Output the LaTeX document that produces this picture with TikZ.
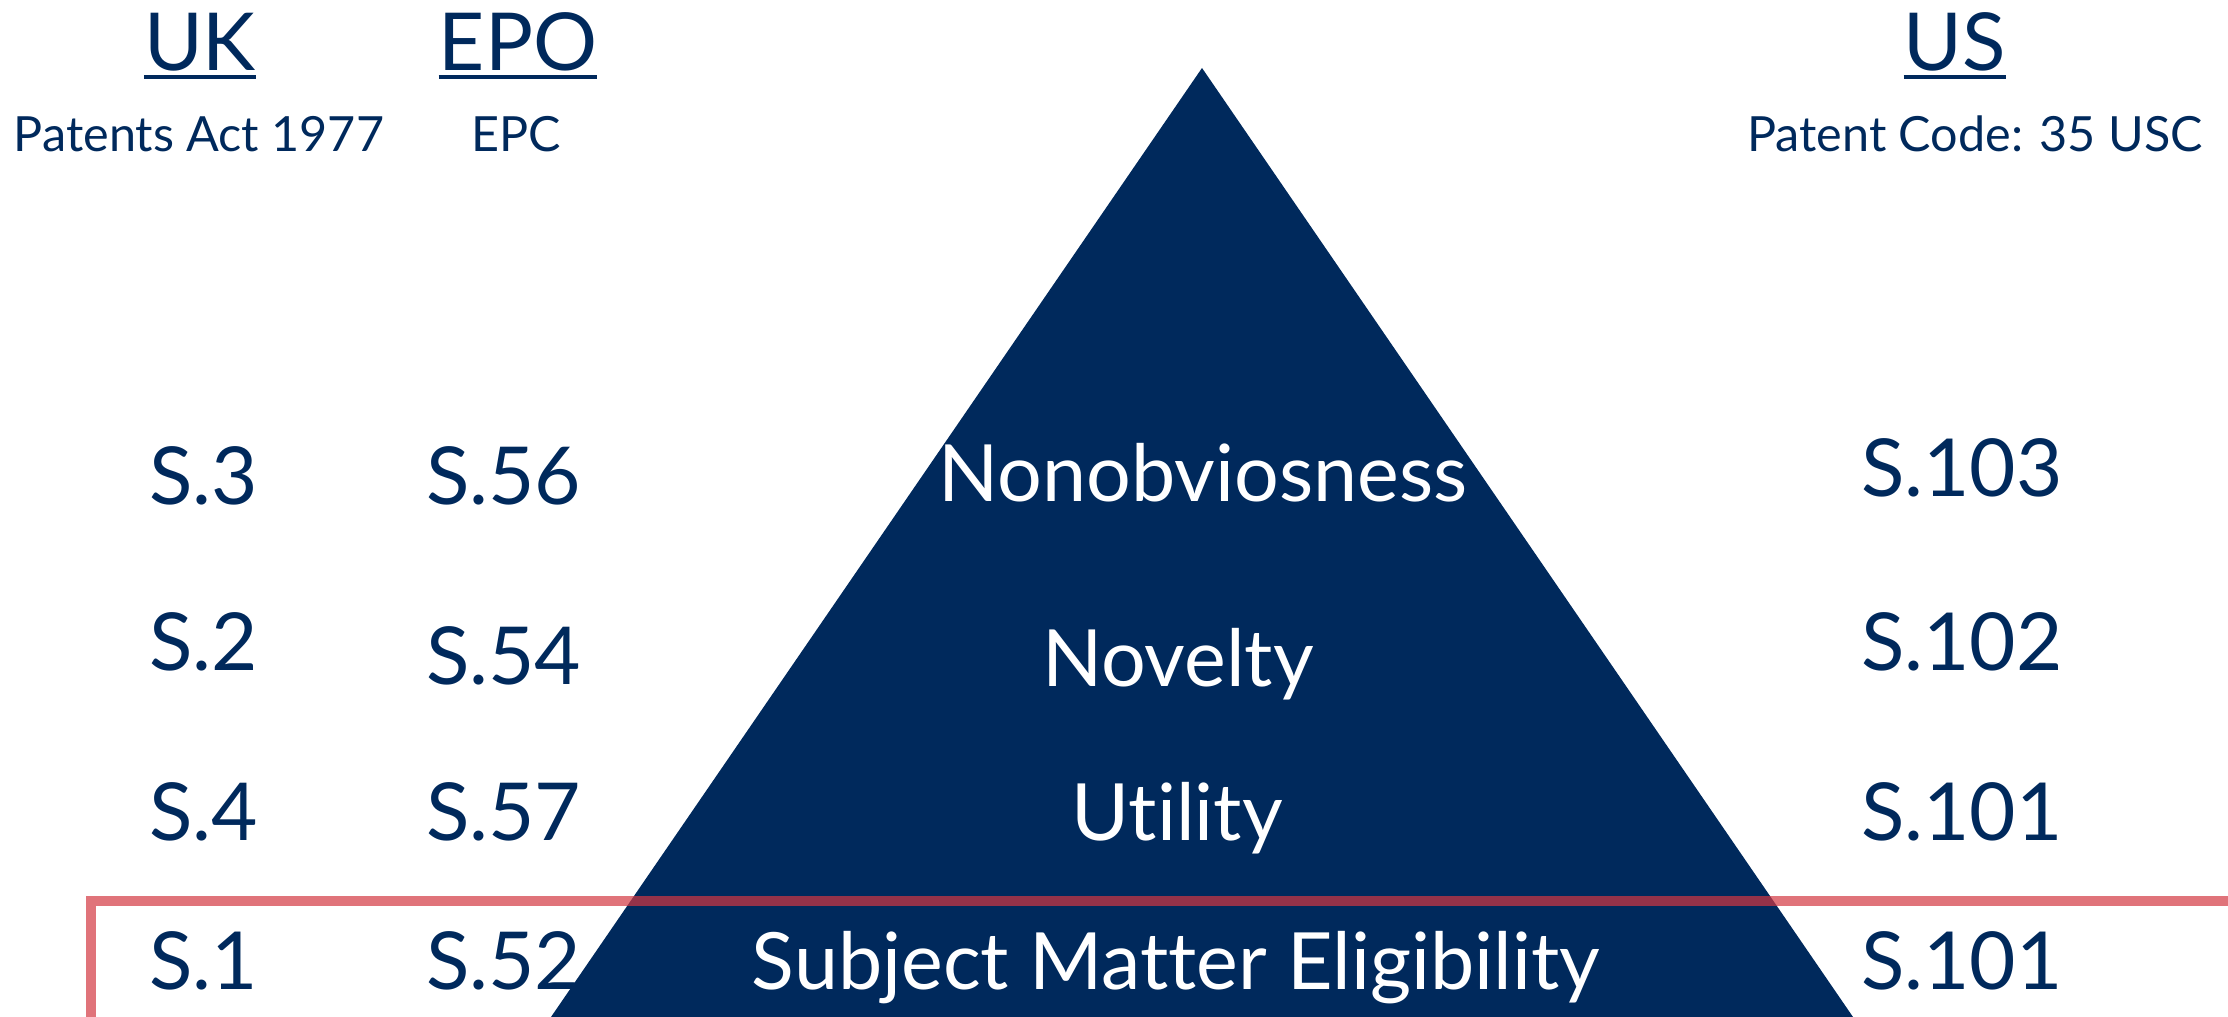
\documentclass[tikz,border=0pt]{standalone}
\usepackage{fontspec}
\setmainfont{Lato}[Ligatures=NoCommon]
\definecolor{navy}{RGB}{0,41,92}
\definecolor{hlred}{RGB}{211,55,65}
\begin{document}
\begin{tikzpicture}[x=1pt,y=1pt,
  head/.style={font=\fontsize{80}{96}\selectfont, text=navy, inner sep=0pt, anchor=base},
  sub/.style={font=\fontsize{48.5}{58}\selectfont, text=navy, inner sep=0pt, anchor=base},
  lab/.style={font=\fontsize{80}{96}\selectfont, text=navy, inner sep=0pt, anchor=base west},
  tri/.style={font=\fontsize{79}{95}\selectfont, text=white, inner sep=0pt, anchor=base},
  uline/.style={draw=navy, line width=4pt}]
\useasboundingbox (0,0) rectangle (2228,1017);
% triangle
\coordinate (apex) at (1202,949);
\coordinate (bl) at (551,0);
\coordinate (br) at (1853,0);
\fill[navy] (apex) -- (bl) -- (br) -- cycle;
% headings
\node[head] (uk) at (200,946) {UK};
\node[head] (epo) at (518,946) {EPO};
\node[head] (us) at (1955,946) {US};
\draw[uline] ([yshift=-6]uk.base west) -- ([yshift=-6]uk.base east);
\draw[uline] ([yshift=-6]epo.base west) -- ([yshift=-6]epo.base east);
\draw[uline] ([yshift=-6]us.base west) -- ([yshift=-6]us.base east);
\node[sub] (ukact) at (199,865) {Patents Act 1977};
\node[sub] (epc) at (516,865) {EPC};
\node[sub] (usc) at (1975,865) {Patent Code: 35 USC};
% row 1
\node[lab] (s3) at (149,512) {S.3};
\node[lab] (s56) at (426,512) {S.56};
\node[tri] (nonob) at (1203,515) {Nonobviosness};
\node[lab] (s103) at (1861,520) {S.103};
% row 2
\node[lab] (s2) at (149,346) {S.2};
\node[lab] (s54) at (426,332) {S.54};
\node[tri] (novel) at (1178,330) {Novelty};
\node[lab] (s102) at (1861,346) {S.102};
% row 3
\node[lab] (s4) at (149,176) {S.4};
\node[lab] (s57) at (426,176) {S.57};
\node[tri] (util) at (1177,176) {Utility};
\node[lab] (s101a) at (1861,176) {S.101};
% row 4
\node[lab] (s1) at (149,27) {S.1};
\node[lab] (s52) at (426,27) {S.52};
\node[tri] (sme) at (1176,27) {Subject Matter Eligibility};
\node[lab] (s101b) at (1861,27) {S.101};
% highlight frame
\coordinate (hr) at (2240,116);
\coordinate (hc) at (91,116);
\coordinate (hb) at (91,-20);
\draw[draw=hlred, draw opacity=0.7, line width=10pt] (hr) -- (hc) -- (hb);
\end{tikzpicture}
\end{document}
